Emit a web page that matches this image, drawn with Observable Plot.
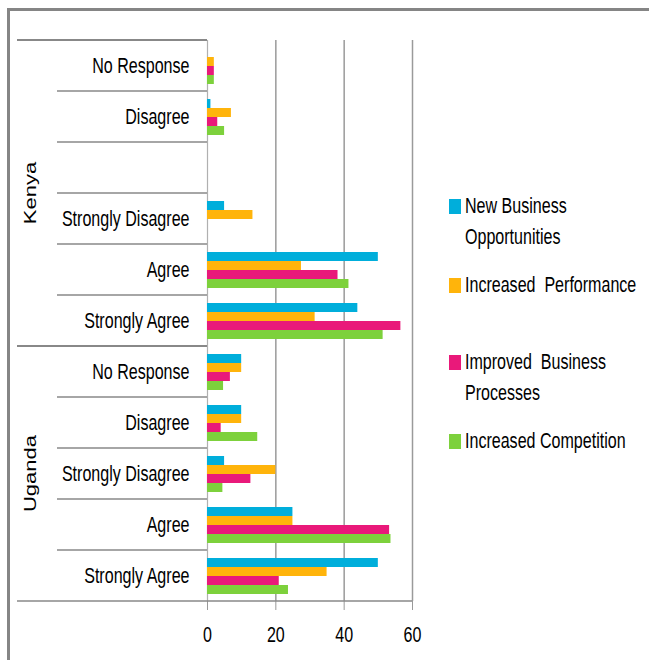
<!DOCTYPE html>
<html><head><meta charset="utf-8">
<script src="https://cdn.jsdelivr.net/npm/d3@7"></script>
<script src="https://cdn.jsdelivr.net/npm/@observablehq/plot@0.6"></script>
<style>
html,body{margin:0;padding:0;background:#fff;}
#wrap{position:relative;width:649px;height:660px;overflow:hidden;}
</style></head>
<body><div id="wrap"></div>
<script>
const FONT = '"Liberation Sans",Arial,sans-serif';
const SQUEEZE = 0.73;
const countries = ["Kenya", "Uganda"];
const kenyaCats = ["No Response", "Disagree", "", "Strongly Disagree", "Agree", "Strongly Agree"];
const ugandaCats = ["No Response", "Disagree", "Strongly Disagree", "Agree", "Strongly Agree"];
const series = ["New Business Opportunities", "Increased  Performance", "Improved  Business Processes", "Increased Competition"];
const legendLines = [["New Business", "Opportunities"], ["Increased  Performance"], ["Improved  Business", "Processes"], ["Increased Competition"]];
const colors = ["#00AEDB", "#FFB40B", "#E9197A", "#7DD13C"];
const xTicks = [0, 20, 40, 60];

// values in category order (null = no bar)
const kenyaNewBusiness  = [null, 1, null, 5, 50, 44];
const kenyaPerformance  = [2, 7, null, 13.3, 27.5, 31.5];
const kenyaProcesses    = [2, 3, null, null, 38.2, 56.6];
const kenyaCompetition  = [2, 5, null, null, 41.4, 51.4];
const ugandaNewBusiness = [10, 10, 5, 25, 50];
const ugandaPerformance = [10, 10, 20, 25, 35];
const ugandaProcesses   = [6.7, 4, 12.7, 53.3, 21];
const ugandaCompetition = [4.7, 14.7, 4.5, 53.7, 23.7];

const groups = [
  {country: "Kenya", cats: kenyaCats, vals: [kenyaNewBusiness, kenyaPerformance, kenyaProcesses, kenyaCompetition]},
  {country: "Uganda", cats: ugandaCats, vals: [ugandaNewBusiness, ugandaPerformance, ugandaProcesses, ugandaCompetition]}
];
const rows = [];
const bars = [];
groups.forEach(g => {
  g.cats.forEach((c, i) => {
    const key = g.country + "|" + i;
    rows.push({key, country: g.country, label: c, first: i === 0, last: i === g.cats.length - 1});
    series.forEach((s, j) => {
      const v = g.vals[j][i];
      if (v != null) bars.push({row: key, series: s, value: v});
    });
  });
});

const plot = Plot.plot({
  width: 649, height: 660,
  marginLeft: 207, marginRight: 237, marginTop: 37, marginBottom: 57,
  style: {fontFamily: FONT, fontSize: "22px", color: "#000", background: "transparent", overflow: "visible"},
  x: {domain: [0, 60], ticks: xTicks, tickSize: 9, tickPadding: 16, label: null},
  y: {domain: series, axis: null, paddingInner: 0, paddingOuter: 0.75},
  fy: {domain: rows.map(d => d.key), axis: null, padding: 0, label: null},
  color: {domain: series, range: colors},
  marks: [
    Plot.ruleX([20, 40, 60], {stroke: "#9a9a9a", strokeWidth: 1.5}),
    Plot.ruleX([0], {stroke: "#b0b0b0", strokeWidth: 1.2}),
    Plot.barX(bars, {fy: "row", y: "series", x: "value", fill: "series"}),
    Plot.text(rows, {fy: "key", text: "label", frameAnchor: "left", textAnchor: "end", dx: -18, fill: "#000"})
  ]
});

const svg = d3.select(plot);
svg.selectAll('[aria-label="x-axis tick"]').attr("stroke", "#999");
svg.selectAll('[aria-label="x-axis tick"] path').attr("stroke", "#999");

// horizontally condense Plot's texts about their anchor (reference face is condensed)
svg.selectAll("text").each(function () {
  const el = d3.select(this);
  const t = el.attr("transform") || "";
  el.attr("transform", `${t} scale(${SQUEEZE},1)`);
});

const fy = plot.scale("fy");
const xs = plot.scale("x");
const bw = fy.bandwidth;
const deco = svg.append("g");
rows.forEach(r => {
  const y0 = fy.apply(r.key);
  deco.append("line").attr("x1", r.first ? 17 : 57).attr("x2", xs.apply(0))
    .attr("y1", y0).attr("y2", y0).attr("stroke", "#888").attr("stroke-width", r.first ? 1.8 : 1.3);
  if (r.last && r.country === countries[countries.length - 1]) {
    deco.append("line").attr("x1", 17).attr("x2", xs.apply(60))
      .attr("y1", y0 + bw).attr("y2", y0 + bw).attr("stroke", "#888").attr("stroke-width", 1.5);
  }
});
countries.forEach(c => {
  const rs = rows.filter(r => r.country === c);
  const top = fy.apply(rs[0].key), bot = fy.apply(rs[rs.length - 1].key) + bw;
  deco.append("text").attr("transform", `translate(31,${(top + bot) / 2}) scale(${SQUEEZE},1) rotate(-90)`)
    .attr("text-anchor", "middle").attr("dominant-baseline", "central")
    .attr("font-family", FONT).attr("font-size", 22).attr("fill", "#000").text(c);
});
// outer frame (top and left edges)
deco.append("line").attr("x1", 8.5).attr("x2", 649).attr("y1", 9.5).attr("y2", 9.5).attr("stroke", "#858585").attr("stroke-width", 3);
deco.append("line").attr("x1", 8.5).attr("x2", 8.5).attr("y1", 8).attr("y2", 660).attr("stroke", "#858585").attr("stroke-width", 3);

// legend
const legendBase = [213, 292, 369, 448];
const leg = svg.append("g").attr("font-family", FONT).attr("font-size", 22).attr("fill", "#000").attr("text-anchor", "start");
series.forEach((s, i) => {
  const b = legendBase[i];
  leg.append("rect").attr("x", 449).attr("y", b - 14).attr("width", 12).attr("height", 15).attr("fill", colors[i]);
  legendLines[i].forEach((t, k) => {
    leg.append("text").attr("transform", `translate(465,${b + k * 31}) scale(${SQUEEZE},1)`)
      .attr("xml:space", "preserve").style("white-space", "pre").text(t);
  });
});

document.getElementById("wrap").appendChild(plot);
</script>
</body></html>
